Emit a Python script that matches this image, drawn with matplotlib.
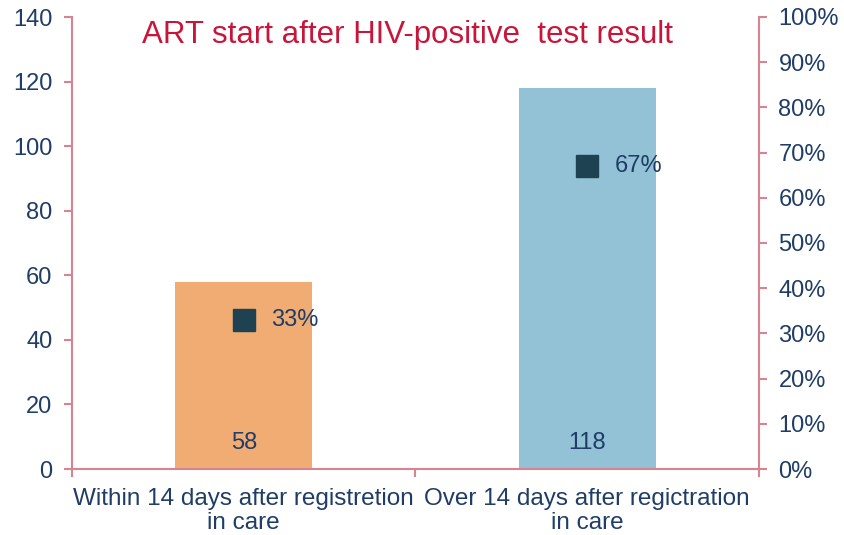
import matplotlib
matplotlib.use("Agg")
import matplotlib.pyplot as plt
from matplotlib.ticker import FuncFormatter

categories = ["Within 14 days after registretion\nin care", "Over 14 days after regictration\nin care"]
counts = [58, 118]
percents = [33, 67]
title = "ART start after HIV-positive  test result"

navy = "#1F3D66"
spine_c = "#D8848E"
bar_colors = ["#F0AC73", "#93C1D5"]
marker_c = "#1E4252"

plt.rcParams['font.family'] = ['Liberation Sans', 'DejaVu Sans']
narrow = ['Liberation Sans Narrow', 'Liberation Sans', 'DejaVu Sans']

fig = plt.figure(figsize=(8.45, 5.35), dpi=100)
ax = fig.add_axes([72/845, 1-469/535, (759-72)/845, (469-17)/535])
x = list(range(len(categories)))
ax.bar(x, counts, width=0.4, color=bar_colors, zorder=2)
ax.set_xlim(-0.5, 1.5)
ax.set_ylim(0, 140)
ax.set_yticks(range(0, 141, 20))
ax.set_xticks([-0.5, 0.5, 1.5])
ax.set_xticklabels([])
ax.tick_params(axis='x', direction='out', length=6, color=spine_c, width=1.5)
ax.tick_params(axis='y', direction='out', length=6, color=spine_c, width=1.5, labelsize=17, labelcolor=navy, pad=8)
for s in ['top', 'right']:
    ax.spines[s].set_visible(False)
for s in ['left', 'bottom']:
    ax.spines[s].set_color(spine_c)
    ax.spines[s].set_linewidth(1.5)
for xi, c in zip(x, counts):
    ax.text(xi, 8, str(c), ha='center', va='center', fontsize=17, color=navy, zorder=3)
for xi, lab in zip(x, categories):
    ax.text(xi, -0.042, lab, transform=ax.get_xaxis_transform(), ha='center', va='top',
            fontsize=17.5, color=navy, linespacing=1.12, family=narrow)

ax2 = ax.twinx()
ax2.set_ylim(0, 100)
ax2.set_yticks(range(0, 101, 10))
ax2.yaxis.set_major_formatter(FuncFormatter(lambda v, p: f"{int(v)}%"))
ax2.tick_params(axis='y', direction='out', length=6, color=spine_c, width=1.5, labelsize=17, labelcolor=navy, pad=8)
for s in ['top', 'left', 'bottom']:
    ax2.spines[s].set_visible(False)
ax2.spines['right'].set_color(spine_c)
ax2.spines['right'].set_linewidth(1.5)
ax2.plot(x, percents, linestyle='none', marker='s', markersize=15.5, color=marker_c, zorder=4)
for xi, p in zip(x, percents):
    ax2.text(xi + 0.08, p, f"{p}%", ha='left', va='center', fontsize=17, color=navy)

fig.text(408/845, 1-35/535, title, ha='center', va='center', fontsize=22.5, color="#C8163A")

fig.savefig("out.png", dpi=100)
